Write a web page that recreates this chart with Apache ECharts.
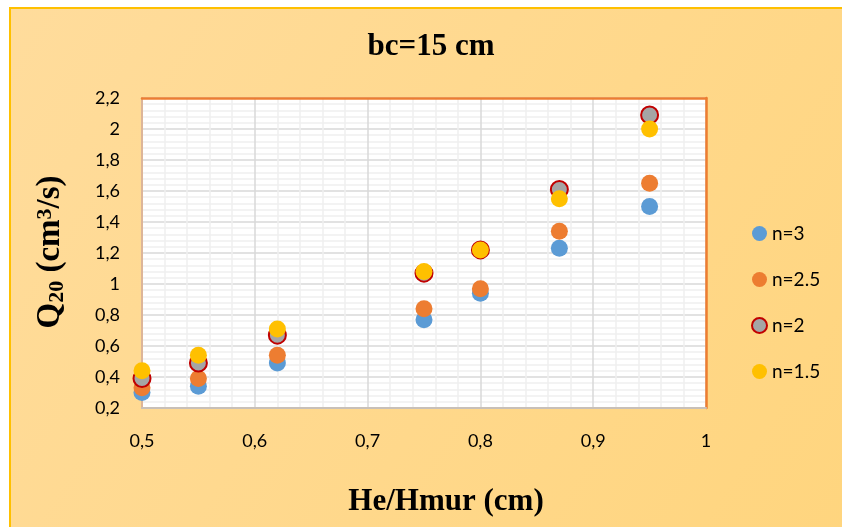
<!DOCTYPE html>
<html>
<head>
<meta charset="utf-8">
<script src="https://cdn.jsdelivr.net/npm/echarts@6/dist/echarts.min.js"></script>
<style>
  html, body { margin: 0; padding: 0; background: #ffffff; }
  #chart { width: 842px; height: 527px; }
</style>
</head>
<body>
<div id="chart"></div>
<script>
// Relative head He/Hmur on x, discharge Q20 on y, one series per n
const xValues = [0.5, 0.55, 0.62, 0.75, 0.8, 0.87, 0.95];
const q_n3   = [0.30, 0.34, 0.49, 0.77, 0.94, 1.23, 1.50];
const q_n25  = [0.33, 0.39, 0.54, 0.84, 0.97, 1.34, 1.65];
const q_n2   = [0.39, 0.49, 0.67, 1.07, 1.22, 1.61, 2.09];
const q_n15  = [0.44, 0.54, 0.71, 1.08, 1.22, 1.55, 2.00];
const seriesNames = ['n=3', 'n=2.5', 'n=2', 'n=1.5'];

const chartTitle = 'bc=15 cm';
const xTitle = 'He/Hmur (cm)';

const commaFmt = v => String(Number(v.toFixed(2))).replace('.', ',');
const pairs = ys => xValues.map((x, i) => [x, ys[i]]);

const chart = echarts.init(document.getElementById('chart'));

const serif = 'Liberation Serif';
const seriesDefs = [
  { name: seriesNames[0], data: q_n3,  style: { color: '#5B9BD5' } },
  { name: seriesNames[1], data: q_n25, style: { color: '#ED7D31' } },
  { name: seriesNames[2], data: q_n2,  style: { color: '#A5A5A5', borderColor: '#C00000', borderWidth: 2 } },
  { name: seriesNames[3], data: q_n15, style: { color: '#FFC000' } }
];

// frame-only axes drawn on the top and right edges of the plot
const frameAxis = {
  type: 'value',
  axisLine: { show: true, lineStyle: { color: '#ED7D31', width: 2.5 } },
  axisTick: { show: false },
  axisLabel: { show: false },
  splitLine: { show: false }
};

chart.setOption({
  backgroundColor: '#ffffff',
  animation: false,
  graphic: [
    {
      type: 'rect',
      z: -10,
      silent: true,
      shape: { x: 10, y: 8, width: 840, height: 530 },
      style: {
        fill: new echarts.graphic.LinearGradient(0, 0, 1, 1, [
          { offset: 0, color: '#FFDC9C' },
          { offset: 1, color: '#FFD57E' }
        ]),
        stroke: '#FFC000',
        lineWidth: 2
      }
    },
    {
      type: 'text',
      silent: true,
      x: 431,
      y: 47,
      style: {
        text: chartTitle,
        font: 'bold 31px "Liberation Serif"',
        fill: '#000',
        align: 'center',
        verticalAlign: 'middle'
      }
    },
    {
      type: 'text',
      silent: true,
      x: 446,
      y: 502,
      style: {
        text: xTitle,
        font: 'bold 31px "Liberation Serif"',
        fill: '#000',
        align: 'center',
        verticalAlign: 'middle'
      }
    },
    {
      type: 'text',
      silent: true,
      x: 50,
      y: 252,
      rotation: Math.PI / 2,
      style: {
        text: '{b|Q}{sub|20}{b| (cm}{sup|3}{b|/s)}',
        align: 'center',
        verticalAlign: 'middle',
        rich: {
          b:   { fontFamily: serif, fontWeight: 'bold', fontSize: 33, fill: '#000', lineHeight: 40, verticalAlign: 'middle' },
          sub: { fontFamily: serif, fontWeight: 'bold', fontSize: 22, fill: '#000', lineHeight: 40, verticalAlign: 'bottom', padding: [0, 0, 2, 0] },
          sup: { fontFamily: serif, fontWeight: 'bold', fontSize: 22, fill: '#000', lineHeight: 40, verticalAlign: 'top', padding: [4, 0, 0, 0] }
        }
      }
    }
  ],
  legend: {
    orient: 'vertical',
    left: 751,
    top: 224,
    padding: 0,
    itemGap: 27,
    itemWidth: 15,
    itemHeight: 15,
    textStyle: { fontFamily: 'Lato', fontSize: 19, color: '#000' },
    data: seriesNames.map(n => ({ name: n, icon: 'circle' }))
  },
  grid: {
    show: true,
    left: 142,
    top: 98,
    right: 136,
    bottom: 119,
    backgroundColor: '#ffffff',
    borderColor: '#ED7D31',
    borderWidth: 0
  },
  xAxis: [
    {
      type: 'value',
      min: 0.5,
      max: 1,
      interval: 0.1,
      axisLine: { show: true, lineStyle: { color: '#C8C0B8', width: 2 } },
      axisTick: { show: false },
      axisLabel: { margin: 24, fontFamily: 'Lato', fontSize: 18, color: '#000', formatter: commaFmt },
      splitLine: { show: true, lineStyle: { color: '#D9D9D9', width: 1.5 } },
      minorTick: { show: false, splitNumber: 5 },
      minorSplitLine: { show: true, lineStyle: { color: '#F0F0F0', width: 1.5 } }
    },
    Object.assign({ position: 'top', min: 0.5, max: 1 }, frameAxis)
  ],
  yAxis: [
    {
      type: 'value',
      min: 0.2,
      max: 2.2,
      interval: 0.2,
      axisLine: { show: true, lineStyle: { color: '#DDB598', width: 2 } },
      axisTick: { show: false },
      axisLabel: { margin: 22, fontFamily: 'Lato', fontSize: 18, color: '#000', formatter: commaFmt },
      splitLine: { show: true, lineStyle: { color: '#D9D9D9', width: 1.5 } },
      minorTick: { show: false, splitNumber: 5 },
      minorSplitLine: { show: true, lineStyle: { color: '#F0F0F0', width: 1.5 } }
    },
    Object.assign({ position: 'right', min: 0.2, max: 2.2 }, frameAxis)
  ],
  series: seriesDefs.map(s => ({
    name: s.name,
    type: 'scatter',
    symbol: 'circle',
    symbolSize: 17,
    xAxisIndex: 0,
    yAxisIndex: 0,
    itemStyle: Object.assign({ opacity: 1 }, s.style),
    data: pairs(s.data)
  }))
});
</script>
</body>
</html>
